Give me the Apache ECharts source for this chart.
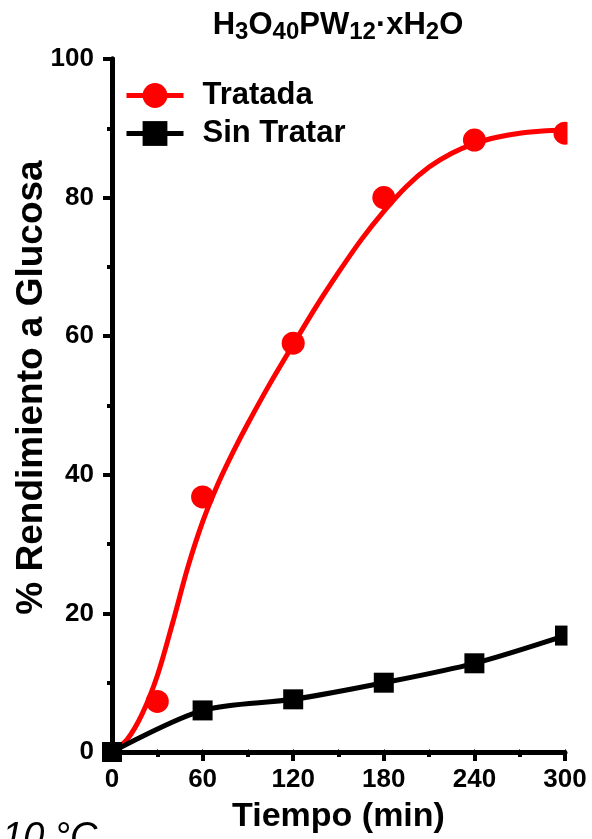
<!DOCTYPE html>
<html>
<head>
<meta charset="utf-8">
<script src="https://cdn.jsdelivr.net/npm/echarts@6/dist/echarts.min.js"></script>
<style>
html, body { margin: 0; padding: 0; background: #fff; }
#chart { width: 592px; height: 839px; }
</style>
</head>
<body>
<div id="chart"></div>
<script>
// puntos medidos
const tiempoTratada = [30, 60, 120, 180, 240, 300];
const tratada = [7.3, 36.8, 59.0, 80.0, 88.3, 89.3];
const tiempoSin = [0, 60, 120, 180, 240, 300];
const sinTratar = [0, 6.0, 7.6, 10.0, 12.8, 16.8];
// curva de ajuste
const tiempoAjuste = [0, 10, 20, 30, 40, 50, 60, 70, 80, 90, 105, 120, 135, 150, 165, 180, 195, 210, 225, 240, 255, 270, 285, 300];
const tratadaAjuste = [0, 1.8, 5.5, 11, 18.5, 26.5, 33.2, 38.6, 43.2, 47.4, 53.3, 58.8, 64.2, 69.2, 73.9, 78.0, 81.6, 84.4, 86.4, 87.8, 88.7, 89.3, 89.6, 89.8];
const ticksX = [0, 60, 120, 180, 240, 300];

const font = "'Liberation Sans', Arial, sans-serif";
const pares = (xs, ys) => xs.map((x, i) => [x, ys[i]]);

const chart = echarts.init(document.getElementById('chart'));

chart.setOption({
    animation: false,
    backgroundColor: '#fff',
    title: {
        text: '{m|H}{s|3}{m|O}{s|40}{m|PW}{s|12}{m|·xH}{s|2}{m|O}',
        left: 333,
        top: 2,
        textAlign: 'center',
        textStyle: {
            rich: {
                m: { fontFamily: font, fontWeight: 'bold', fontSize: 31, color: '#000' },
                s: { fontFamily: font, fontWeight: 'bold', fontSize: 24, color: '#000', padding: [13, 0, 0, 0] }
            }
        }
    },
    legend: {
        data: ['Tratada', 'Sin Tratar'],
        orient: 'vertical',
        left: 124,
        top: 80,
        padding: 0,
        itemWidth: 57,
        itemHeight: 31,
        itemGap: 7,
        lineStyle: { width: 5 },
        textStyle: {
            fontFamily: font, fontWeight: 'bold', fontSize: 31, color: '#000',
            padding: [0, 0, 0, 14], lineHeight: 31
        }
    },
    grid: { left: 112, right: 27, top: 59, bottom: 87, containLabel: false, outerBoundsMode: 'none' },
    xAxis: [{
        type: 'value',
        min: 0, max: 300, interval: 60,
        name: 'Tiempo (min)',
        nameLocation: 'middle',
        nameGap: 48,
        nameMoveOverlap: false,
        nameTextStyle: { fontFamily: font, fontWeight: 'bold', fontSize: 34, color: '#000' },
        axisLine: { lineStyle: { color: '#000', width: 5 } },
        axisTick: { show: true, length: 9, lineStyle: { color: '#000', width: 4 } },
        minorTick: { show: true, splitNumber: 2, length: 5, lineStyle: { color: '#000', width: 4 } },
        axisLabel: {
            margin: 15, fontFamily: font, fontWeight: 'bold', fontSize: 26, color: '#000',
            formatter: v => ticksX.includes(v) ? String(v) : ''
        },
        splitLine: { show: false },
        z: 3
    }, {
        type: 'value',
        position: 'top',
        min: 0, max: 300, interval: 30,
        axisLine: { lineStyle: { color: '#222', width: 3 } },
        axisTick: { show: true, length: 3, lineStyle: { color: '#666', width: 1 } },
        axisLabel: { show: false },
        splitLine: { show: false }
    }],
    yAxis: [{
        type: 'value',
        min: 0, max: 100, interval: 20,
        name: '% Rendimiento a Glucosa',
        nameLocation: 'middle',
        nameGap: 62,
        nameMoveOverlap: false,
        nameTextStyle: {
            fontFamily: font, fontWeight: 'bold', fontSize: 37, color: '#000',
            padding: [0, 0, 0, 36]
        },
        axisLine: { show: true, lineStyle: { color: '#000', width: 5 } },
        axisTick: { show: true, length: 9, lineStyle: { color: '#000', width: 4 } },
        minorTick: { show: true, splitNumber: 2, length: 5, lineStyle: { color: '#000', width: 4 } },
        axisLabel: { margin: 18, fontFamily: font, fontWeight: 'bold', fontSize: 26, color: '#000' },
        splitLine: { show: false },
        z: 3
    }, {
        type: 'value',
        position: 'right',
        min: 0, max: 100, interval: 20,
        axisLine: { show: true, lineStyle: { color: '#000', width: 5 } },
        axisTick: { show: false },
        axisLabel: { show: false },
        splitLine: { show: false }
    }],
    series: [{
        name: 'Tratada',
        type: 'line',
        data: pares(tiempoAjuste, tratadaAjuste),
        smooth: 0.3,
        symbol: 'circle',
        symbolSize: 23,
        showSymbol: false,
        color: '#ff0000',
        lineStyle: { color: '#ff0000', width: 5 }
    }, {
        name: 'Tratada',
        type: 'scatter',
        data: pares(tiempoTratada, tratada),
        symbol: 'circle',
        symbolSize: 23,
        itemStyle: { color: '#ff0000', opacity: 1 }
    }, {
        name: 'Sin Tratar',
        type: 'line',
        data: pares(tiempoSin, sinTratar),
        smooth: 0.3,
        symbol: 'rect',
        symbolSize: 20,
        color: '#000',
        lineStyle: { color: '#000', width: 5 },
        itemStyle: { color: '#000' }
    }],
    graphic: [{
        // recorte de marcadores en el borde derecho
        type: 'rect',
        z: 100,
        shape: { x: 567.5, y: 30, width: 30, height: 722 },
        style: { fill: '#fff' }
    }, {
        type: 'text',
        left: 2,
        top: 819,
        style: { text: '10 °C', font: "italic 38px 'Liberation Sans', Arial, sans-serif", fill: '#000' }
    }]
});
</script>
</body>
</html>
